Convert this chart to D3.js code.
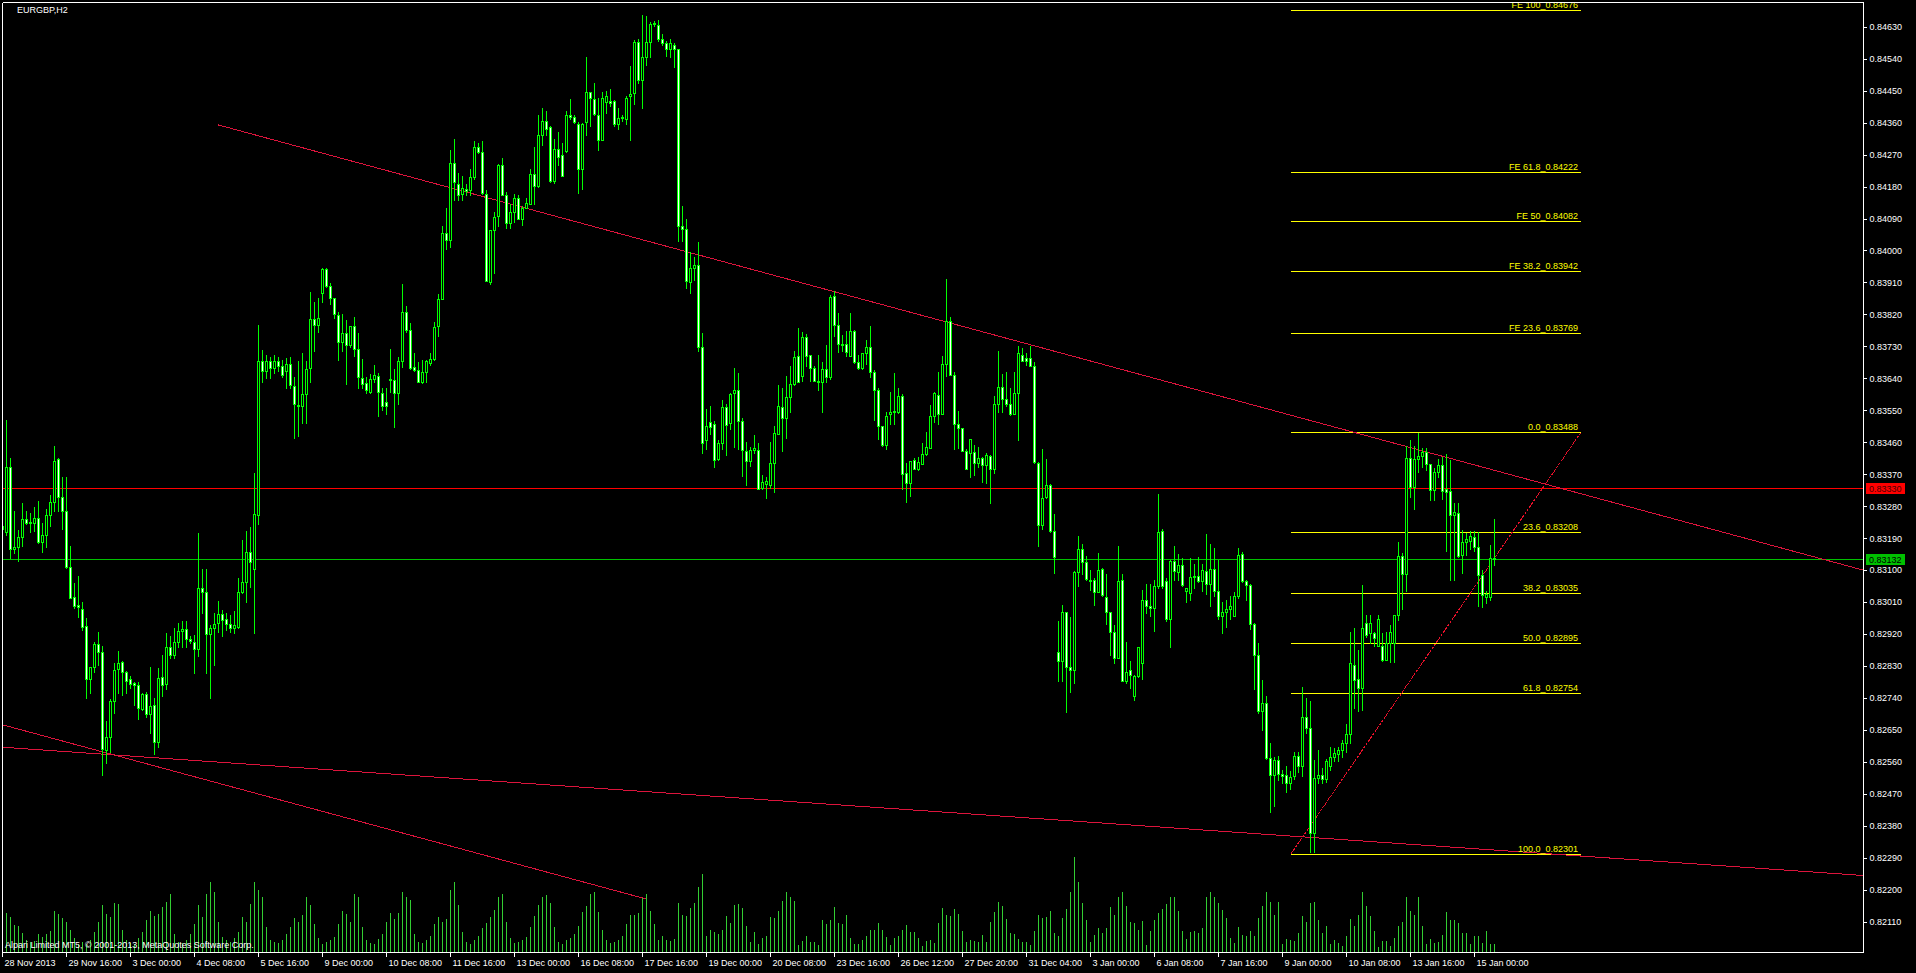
<!DOCTYPE html>
<html><head><meta charset="utf-8">
<script src="https://cdnjs.cloudflare.com/ajax/libs/d3/7.8.5/d3.min.js"></script>
<style>html,body{margin:0;padding:0;background:#000;overflow:hidden}</style>
</head><body>
<script>
// ---------------- DATA ----------------
const symbolTitle = "EURGBP,H2";
const copyrightText = "Alpari Limited MT5, \u00a9 2001-2013, MetaQuotes Software Corp.";
// H2 bars, prices in points (x 1e-5): [open, high, low, close]
const ohlc = [
[83225,83232,83208,83215],[83208,83523,83199,83391],[83391,83415,83133,83159],[83159,83265,83147,83166],
[83166,83213,83126,83194],[83192,83288,83169,83244],[83244,83266,83230,83232],[83236,83260,83208,83232],
[83232,83279,83211,83246],[83246,83295,83175,83180],[83180,83232,83152,83199],[83199,83272,83166,83255],
[83255,83311,83224,83291],[83293,83448,83265,83407],[83412,83415,83267,83305],[83307,83361,83216,83266],
[83267,83361,83107,83108],[83108,83168,83022,83022],[83023,83065,82994,83000],[83002,83082,82969,82997],
[82990,83011,82931,82941],[82943,82964,82741,82792],[82792,82828,82753,82826],[82826,82898,82814,82891],
[82891,82927,82833,82868],[82868,82886,82523,82595],[82593,82675,82556,82629],[82629,82736,82589,82731],
[82731,82837,82697,82819],[82821,82872,82755,82837],[82840,82844,82748,82814],[82814,82817,82753,82788],
[82792,82802,82767,82778],[82781,82786,82720,82775],[82776,82786,82682,82711],[82708,82753,82706,82751],
[82750,82756,82685,82694],[82694,82828,82642,82717],[82720,82741,82581,82617],[82617,82825,82603,82797],
[82800,82861,82745,82776],[82778,82924,82764,82884],[82884,82913,82853,82861],[82861,82936,82852,82897],
[82897,82950,82884,82928],[82928,82957,82884,82933],[82933,82957,82884,82905],[82905,82913,82894,82900],
[82898,82917,82811,82877],[82877,83204,82858,83049],[83049,83102,82978,83039],[83039,83102,82811,82919],
[82919,82945,82739,82938],[82936,82978,82833,82948],[82950,83013,82927,82975],[82975,82988,82913,82959],
[82962,82978,82931,82948],[82947,82974,82927,82938],[82938,82985,82924,82945],[82940,83077,82938,83037],
[83037,83185,83035,83067],[83067,83210,83011,83150],[83150,83222,83053,83124],[83102,83372,82922,83257],
[83255,83790,83230,83690],[83690,83720,83630,83660],[83660,83705,83640,83690],[83690,83700,83640,83670],
[83670,83705,83655,83690],[83690,83700,83660,83675],[83675,83691,83643,83649],[83660,83698,83612,83680],
[83679,83700,83612,83620],[83618,83643,83472,83567],[83566,83689,83478,83561],[83561,83710,83514,83596],
[83596,83689,83514,83667],[83669,83884,83630,83807],[83807,83856,83718,83791],[83789,83865,83771,83810],
[83881,83950,83856,83948],[83948,83950,83896,83899],[83899,83908,83850,83865],[83865,83865,83810,83820],
[83817,83828,83691,83743],[83743,83822,83718,83767],[83767,83804,83624,83734],[83734,83787,83728,83787],
[83787,83813,83704,83722],[83722,83767,83612,83643],[83640,83694,83612,83624],[83627,83643,83600,83608],
[83602,83652,83600,83639],[83639,83677,83630,83648],[83646,83655,83535,83602],[83600,83612,83551,83561],
[83572,83612,83539,83561],[83638,83722,83602,83634],[83636,83667,83502,83600],[83600,83700,83569,83688],
[83688,83905,83673,83826],[83826,83844,83771,83777],[83775,83795,83667,83669],[83673,83710,83661,83664],
[83664,83685,83630,83630],[83630,83691,83627,83657],[83657,83691,83630,83688],[83682,83710,83677,83694],
[83694,83799,83691,83785],[83787,83878,83759,83862],[83862,84070,83862,84048],[84048,84119,84005,84030],
[84030,84284,84009,84247],[84247,84314,84141,84192],[84186,84217,84141,84155],[84159,84211,84143,84177],
[84173,84186,84155,84168],[84171,84229,84155,84208],[84207,84308,84201,84290],[84290,84302,84275,84278],
[84277,84308,84159,84162],[84159,84170,83914,83914],[83912,84058,83905,84058],[84058,84107,83936,84094],
[84097,84243,84070,84241],[84241,84259,84155,84155],[84155,84165,84064,84076],[84076,84131,84064,84107],
[84107,84158,84079,84149],[84149,84155,84088,84088],[84088,84125,84072,84119],[84119,84149,84119,84135],
[84131,84229,84131,84214],[84214,84292,84131,84182],[84182,84381,84180,84324],[84324,84400,84296,84366],
[84366,84394,84326,84341],[84347,84351,84192,84195],[84195,84314,84190,84287],[84287,84333,84241,84263],
[84270,84302,84210,84210],[84280,84394,84278,84381],[84381,84427,84369,84375],[84375,84381,84360,84363],
[84357,84363,84162,84229],[84229,84360,84174,84357],[84361,84546,84326,84445],[84445,84446,84351,84430],
[84427,84473,84381,84385],[84381,84430,84284,84312],[84312,84446,84312,84430],[84418,84448,84388,84434],
[84422,84455,84406,84416],[84422,84424,84351,84355],[84357,84400,84341,84373],[84373,84381,84366,84375],
[84369,84434,84357,84428],[84434,84519,84312,84440],[84443,84593,84412,84587],[84587,84595,84473,84479],
[84479,84662,84400,84546],[84546,84659,84522,84587],[84587,84644,84546,84638],[84638,84646,84632,84641],
[84634,84650,84589,84595],[84595,84610,84580,84585],[84583,84589,84549,84568],[84568,84595,84546,84583],
[84580,84583,84516,84568],[84568,84568,84027,84070],[84068,84125,84027,84060],[84060,84088,83893,83914],
[83912,83997,83881,83950],[83952,83982,83917,83958],[83958,84024,83716,83728],[83728,83767,83429,83457],
[83466,83553,83441,83506],[83518,83561,83484,83502],[83511,83520,83389,83411],[83413,83466,83411,83457],
[83459,83579,83441,83559],[83559,83569,83423,83508],[83514,83600,83496,83597],[83600,83669,83447,83608],
[83608,83655,83441,83520],[83520,83527,83364,83437],[83435,83462,83340,83408],[83408,83447,83392,83437],
[83437,83481,83429,83443],[83437,83457,83328,83328],[83331,83368,83327,83347],[83342,83362,83303,83350],
[83340,83462,83331,83401],[83401,83506,83321,83486],[83484,83621,83484,83563],[83560,83613,83434,83527],
[83527,83646,83473,83587],[83587,83674,83546,83624],[83624,83716,83621,83699],[83702,83782,83629,83629],
[83646,83771,83633,83755],[83755,83766,83674,83704],[83707,83707,83633,83670],[83670,83674,83632,83632],
[83633,83707,83607,83630],[83630,83685,83544,83666],[83666,83733,83629,83644],[83644,83874,83637,83869],
[83871,83885,83760,83789],[83789,83824,83713,83738],[83737,83763,83718,83733],[83737,83774,83704,83713],
[83704,83824,83702,83774],[83774,83777,83682,83685],[83685,83707,83666,83668],[83668,83711,83666,83711],
[83711,83748,83680,83727],[83727,83787,83644,83657],[83657,83663,83524,83607],[83607,83613,83470,83507],
[83505,83507,83448,83451],[83451,83546,83442,83535],[83540,83602,83512,83544],[83545,83655,83512,83548],
[83544,83613,83543,83590],[83590,83596,83329,83370],[83373,83401,83292,83345],[83345,83407,83310,83407],
[83409,83415,83384,83384],[83384,83418,83381,83404],[83399,83457,83399,83426],[83426,83488,83423,83446],
[83443,83565,83443,83535],[83535,83601,83518,83598],[83592,83657,83512,83540],[83540,83702,83540,83679],
[83679,83919,83646,83800],[83800,83813,83648,83648],[83648,83657,83440,83512],[83512,83548,83443,83499],
[83499,83501,83434,83434],[83434,83440,83384,83384],[83429,83470,83362,83468],[83432,83451,83368,83401],
[83401,83446,83390,83415],[83415,83418,83348,83396],[83396,83429,83345,83423],[83420,83423,83290,83384],
[83384,83590,83373,83568],[83568,83718,83546,83615],[83615,83652,83544,83582],[83582,83657,83563,83568],
[83568,83613,83537,83540],[83540,83657,83540,83599],[83599,83730,83466,83711],[83707,83726,83690,83690],
[83696,83711,83677,83688],[83696,83730,83674,83674],[83676,83685,83401,83403],[83401,83403,83169,83228],
[83228,83440,83215,83303],[83307,83412,83303,83340],[83340,83343,83206,83210],[83210,83259,83091,83136],
[82869,82956,82789,82844],[82844,83003,82789,82983],[82983,82983,82700,82828],[82828,82967,82756,82820],
[82820,83098,82783,83095],[83095,83195,83056,83158],[83158,83173,83089,83123],[83123,83139,83073,83076],
[83073,83100,83045,83069],[83073,83078,83002,83039],[83039,83147,83039,83100],[83103,83106,83028,83030],
[83025,83089,82947,82983],[82983,82983,82861,82926],[82926,82945,82839,82853],[82853,83167,82852,83070],
[83072,83089,82789,82789],[82789,82898,82783,82813],[82820,82845,82767,82805],[82744,82805,82733,82803],
[82803,82883,82800,82883],[82839,83045,82794,83015],[83017,83061,82978,82998],[82998,83061,82972,82994],
[82994,83072,82928,83056],[83056,83314,83050,83206],[83210,83217,83050,83056],[83069,83078,82956,82961],
[82961,83128,82883,83125],[83125,83167,83073,83098],[83095,83145,83073,83114],[83114,83134,83056,83058],
[83040,83050,83011,83050],[83036,83134,83017,83080],[83080,83117,83050,83084],[83084,83136,83067,83069],
[83069,83117,83042,83100],[83098,83201,83034,83061],[83061,83173,82999,83103],[83103,83162,83028,83042],
[83042,83128,82961,82972],[82972,83011,82922,82983],[82983,83017,82939,82989],[82989,83028,82961,82998],
[82972,83039,82972,83028],[83028,83162,83022,83143],[83145,83151,83067,83069],[83069,83072,83017,83058],
[83058,83061,82933,82947],[82947,82950,82764,82861],[82861,82894,82697,82702],[82702,82791,82650,82727],
[82727,82746,82568,82572],[82572,82613,82419,82524],[82522,82575,82435,82566],[82566,82577,82510,82527],
[82527,82538,82499,82521],[82523,82547,82476,82500],[82500,82533,82483,82517],[82521,82589,82512,82577],
[82577,82589,82532,82547],[82547,82770,82519,82686],[82686,82739,82641,82655],[82655,82730,82305,82359],
[82359,82565,82305,82514],[82514,82592,82500,82523],[82523,82542,82500,82512],[82512,82567,82503,82563],
[82549,82603,82537,82575],[82575,82598,82561,82586],[82582,82603,82561,82593],[82592,82622,82575,82612],
[82612,82667,82589,82638],[82638,82927,82612,82838],[82833,82936,82711,82791],[82793,82875,82704,82767],
[82767,83058,82706,82936],[82950,82974,82912,82917],[82922,82974,82894,82950],[82922,82927,82885,82908],
[82886,82974,82885,82962],[82885,82922,82844,82847],[82847,82927,82847,82894],[82894,82944,82842,82925],
[82894,82974,82842,82974],[82974,83180,82960,83140],[83140,83147,82990,83089],[83088,83449,83040,83415],
[83415,83466,83307,83335],[83335,83448,83271,83412],[83412,83485,83377,83420],[83420,83443,83391,83433],
[83432,83443,83382,83399],[83399,83399,83296,83326],[83326,83387,83297,83377],[83377,83412,83363,83396],
[83396,83418,83299,83324],[83327,83427,83155,83321],[83323,83410,83072,83255],[83255,83288,83072,83264],
[83262,83288,83138,83141],[83143,83213,83093,83178],[83180,83204,83143,83187],[83183,83211,83159,83196],
[83194,83211,83154,83166],[83166,83208,83000,83086],[83086,83100,82995,83030],[83025,83040,83006,83033],
[83025,83171,83015,83133],[83133,83244,83114,83132]
];
// tick volume per bar (relative units)
const volumes = [
42,39,35,27,26,19,12,10,
11,18,15,18,21,41,38,34,30,22,14,8,
10,8,12,20,30,47,38,35,49,48,22,12,
9,8,14,20,32,41,36,38,45,50,58,18,
10,9,12,18,28,47,35,58,70,60,30,15,
12,10,14,20,35,30,48,70,62,55,25,12,
10,9,12,18,25,34,30,37,55,47,28,14,
8,10,12,15,28,41,38,30,58,55,25,12,
9,8,13,18,30,39,33,39,60,55,52,18,
10,9,12,16,28,35,30,33,62,70,47,20,
10,8,12,16,24,29,35,42,55,58,30,14,
9,10,12,15,25,36,47,55,57,49,25,10,
8,12,14,18,26,40,46,58,60,40,22,12,
9,10,12,16,28,37,37,39,55,58,41,28,
12,16,12,11,13,49,37,36,44,49,65,78,
16,22,20,18,22,36,29,47,48,44,26,10,
20,8,14,16,35,34,41,51,60,55,51,7,
11,16,10,10,7,32,28,32,45,29,28,37,
14,8,8,12,16,22,
22,29,22,15,7,14,16,22,27,20,20,14,
6,11,12,9,29,44,37,36,43,38,21,10,
12,11,10,17,10,30,40,50,46,33,19,18,
13,10,10,7,21,37,34,35,41,19,
16,34,43,60,95,70,49,32,
10,17,24,19,24,45,37,55,60,46,30,29,
22,31,7,21,32,39,43,48,55,55,41,21,
13,20,21,19,24,55,60,55,49,42,34,14,
9,25,17,16,21,16,34,46,60,50,37,50,
8,13,12,11,19,36,30,49,50,32,19,26,8,12,9,6,16,33,26,37,60,46,36,21,5,11,11,6,14,26,30,55,41,37,55,26,8,13,9,10,17,40,32,32,29,19,19,8,16,16,9,21,8,8
];
const timeLabels = ["28 Nov 2013","29 Nov 16:00","3 Dec 00:00","4 Dec 08:00","5 Dec 16:00","9 Dec 00:00",
 "10 Dec 08:00","11 Dec 16:00","13 Dec 00:00","16 Dec 08:00","17 Dec 16:00","19 Dec 00:00","20 Dec 08:00",
 "23 Dec 16:00","26 Dec 12:00","27 Dec 20:00","31 Dec 04:00","3 Jan 00:00","6 Jan 08:00","7 Jan 16:00",
 "9 Jan 00:00","10 Jan 08:00","13 Jan 16:00","15 Jan 00:00"];
const timeLabelBars = [0,16,32,48,64,80,96,112,128,144,160,176,192,208,224,240,256,272,288,304,320,336,352,368];
const priceTicks = [0.82110,0.82200,0.82290,0.82380,0.82470,0.82560,0.82650,0.82740,0.82830,0.82920,
 0.83010,0.83100,0.83190,0.83280,0.83370,0.83460,0.83550,0.83640,0.83730,0.83820,0.83910,0.84000,
 0.84090,0.84180,0.84270,0.84360,0.84450,0.84540,0.84630];
const hLinePrices = [0.83330, 0.83132];  // horizontal line, bid line
const fibLabels = ["FE 100_0.84676","FE 61.8_0.84222","FE 50_0.84082","FE 38.2_0.83942","FE 23.6_0.83769",
 "0.0_0.83488","23.6_0.83208","38.2_0.83035","50.0_0.82895","61.8_0.82754","100.0_0.82301"];
const fibPrices = [0.84676,0.84222,0.84082,0.83942,0.83769,0.83488,0.83208,0.83035,0.82895,0.82754,0.82301];
const fibBars = [322.25, 394.75];
// trend lines: [bar1, price1, bar2, price2]
const trendLines = [
  [53.9, 0.84354, 465.25, 0.83100],
  [0.25, 0.82601, 465.25, 0.82240],
  [0.25, 0.82664, 161, 0.82174]
];
const fibBaseLine = [322.25, 0.82301, 394.75, 0.83488];

// ---------------- CHART ----------------
const W = 1916, H = 973;
const L = 2.5, R = 1863.5, T = 2.5, B = 952.5;
const svg = d3.select("body").append("svg").attr("width", W).attr("height", H)
  .style("display","block").style("background","#000");
const x = d3.scaleLinear().domain([0, 465.25]).range([2, 1863]);
const y = d3.scaleLinear().domain([0.820245, 0.846997]).range([952, 2]);
const vy = d3.scaleLinear().domain([0, 95]).range([952, 857]);
const FONT = "'Liberation Sans', Arial, sans-serif";
const GREEN = "#00FF00";

svg.append("defs").append("clipPath").attr("id","plot")
  .append("rect").attr("x",3).attr("y",3).attr("width",1860).attr("height",949);

const plot = svg.append("g").attr("clip-path","url(#plot)").attr("shape-rendering","crispEdges");

// volumes
plot.append("g").selectAll("rect").data(volumes).join("rect")
  .attr("x",(d,i)=>Math.round(x(i))).attr("width",1)
  .attr("y",d=>Math.round(vy(d))).attr("height",d=>952-Math.round(vy(d)))
  .attr("fill","#32CD32");

// horizontal lines
plot.append("line").attr("x1",3).attr("x2",1863).attr("y1",Math.round(y(hLinePrices[0]))+0.5).attr("y2",Math.round(y(hLinePrices[0]))+0.5)
  .attr("stroke","#FF0000").attr("stroke-width",1);
plot.append("line").attr("x1",3).attr("x2",1863).attr("y1",Math.round(y(hLinePrices[1]))+0.5).attr("y2",Math.round(y(hLinePrices[1]))+0.5)
  .attr("stroke","#00C000").attr("stroke-width",1);

// fib levels
const fx1 = x(fibBars[0]), fx2 = x(fibBars[1]);
const fib = plot.append("g");
fib.selectAll("line").data(fibPrices).join("line")
  .attr("x1",fx1).attr("x2",fx2)
  .attr("y1",d=>Math.round(y(d))+0.5).attr("y2",d=>Math.round(y(d))+0.5)
  .attr("stroke","#FFFF00").attr("stroke-width",1);

// trend lines
plot.append("g").selectAll("line").data(trendLines).join("line")
  .attr("x1",d=>x(d[0])).attr("y1",d=>y(d[1])).attr("x2",d=>x(d[2])).attr("y2",d=>y(d[3]))
  .attr("stroke","#DC143C").attr("stroke-width",1);
plot.append("line")
  .attr("x1",x(fibBaseLine[0])).attr("y1",y(fibBaseLine[1])).attr("x2",x(fibBaseLine[2])).attr("y2",y(fibBaseLine[3]))
  .attr("stroke","#E8102A").attr("stroke-width",1).attr("stroke-dasharray","3 1");

// candles
const cg = plot.append("g");
const bars = ohlc.map((d,i)=>{
  const [o,h,l,c] = d.map(v=>v/1e5);
  return {i,o,c,h:Math.max(h,o,c),l:Math.min(l,o,c)};
});
cg.selectAll("rect.wick").data(bars).join("rect").attr("class","wick")
  .attr("x",d=>Math.round(x(d.i))).attr("width",1)
  .attr("y",d=>Math.round(y(d.h))).attr("height",d=>Math.max(1,Math.round(y(d.l))-Math.round(y(d.h))+1))
  .attr("fill",GREEN);
cg.selectAll("rect.body").data(bars).join("rect").attr("class","body")
  .attr("x",d=>Math.round(x(d.i))-1).attr("width",3)
  .attr("y",d=>Math.round(y(Math.max(d.o,d.c))))
  .attr("height",d=>Math.round(y(Math.min(d.o,d.c)))-Math.round(y(Math.max(d.o,d.c)))+1)
  .attr("fill",GREEN);
cg.selectAll("rect.fill").data(bars.filter(d=>Math.round(y(Math.min(d.o,d.c)))-Math.round(y(Math.max(d.o,d.c)))>=2))
  .join("rect").attr("class","fill")
  .attr("x",d=>Math.round(x(d.i))).attr("width",1)
  .attr("y",d=>Math.round(y(Math.max(d.o,d.c)))+1)
  .attr("height",d=>Math.round(y(Math.min(d.o,d.c)))-Math.round(y(Math.max(d.o,d.c)))-1)
  .attr("fill",d=>d.c<d.o?"#FFFFFF":"#000000");

// fib labels
svg.append("g").selectAll("text").data(fibPrices).join("text")
  .attr("x",fx2-3).attr("y",d=>Math.round(y(d))-2)
  .attr("text-anchor","end").attr("fill","#FFFF00")
  .style("font-family",FONT).style("font-size","9px")
  .attr("clip-path","url(#plot)")
  .text((d,i)=>fibLabels[i]);

// texts
svg.append("text").attr("x",17).attr("y",13).attr("fill","#fff")
  .style("font-family",FONT).style("font-size","9px").text(symbolTitle);
svg.append("text").attr("x",5).attr("y",948).attr("fill","#fff")
  .style("font-family",FONT).style("font-size","9px").text(copyrightText);

// frame
const frame = svg.append("g").attr("stroke","#fff").attr("stroke-width",1).attr("shape-rendering","crispEdges");
frame.append("line").attr("x1",L).attr("x2",R).attr("y1",T).attr("y2",T);
frame.append("line").attr("x1",L).attr("x2",R).attr("y1",B).attr("y2",B);
frame.append("line").attr("x1",L).attr("x2",L).attr("y1",T).attr("y2",B);
frame.append("line").attr("x1",R).attr("x2",R).attr("y1",T).attr("y2",B);

// y axis
const yAxis = svg.append("g").attr("transform",`translate(${R},0)`)
  .call(d3.axisRight(y).tickValues(priceTicks).tickFormat(d3.format(".5f")).tickSize(3).tickPadding(3));
yAxis.select(".domain").remove();
yAxis.selectAll("line").attr("stroke","#fff").attr("shape-rendering","crispEdges");
yAxis.selectAll("text").attr("fill","#fff").style("font-family",FONT).style("font-size","9px");

// x axis
const xAxis = svg.append("g").attr("transform",`translate(0,${B})`)
  .call(d3.axisBottom(x).tickValues(timeLabelBars).tickFormat((d,i)=>timeLabels[i]).tickSize(4).tickPadding(3));
xAxis.select(".domain").remove();
xAxis.selectAll("line").attr("stroke","#fff").attr("shape-rendering","crispEdges");
xAxis.selectAll("text").attr("fill","#fff").attr("text-anchor","start").attr("dx","2")
  .style("font-family",FONT).style("font-size","9px");

// price labels on axis
const tags = [{p:hLinePrices[0], bg:"#FF0000", fg:"#4a0000"},{p:hLinePrices[1], bg:"#00C000", fg:"#000"}];
tags.forEach(t=>{
  const yy = Math.round(y(t.p));
  svg.append("rect").attr("x",1866).attr("y",yy-5).attr("width",39).attr("height",11).attr("fill",t.bg)
    .attr("shape-rendering","crispEdges");
  svg.append("text").attr("x",1869).attr("y",yy+4).attr("fill",t.fg)
    .style("font-family",FONT).style("font-size","9px").text(t.p.toFixed(5));
});
</script>
</body></html>
